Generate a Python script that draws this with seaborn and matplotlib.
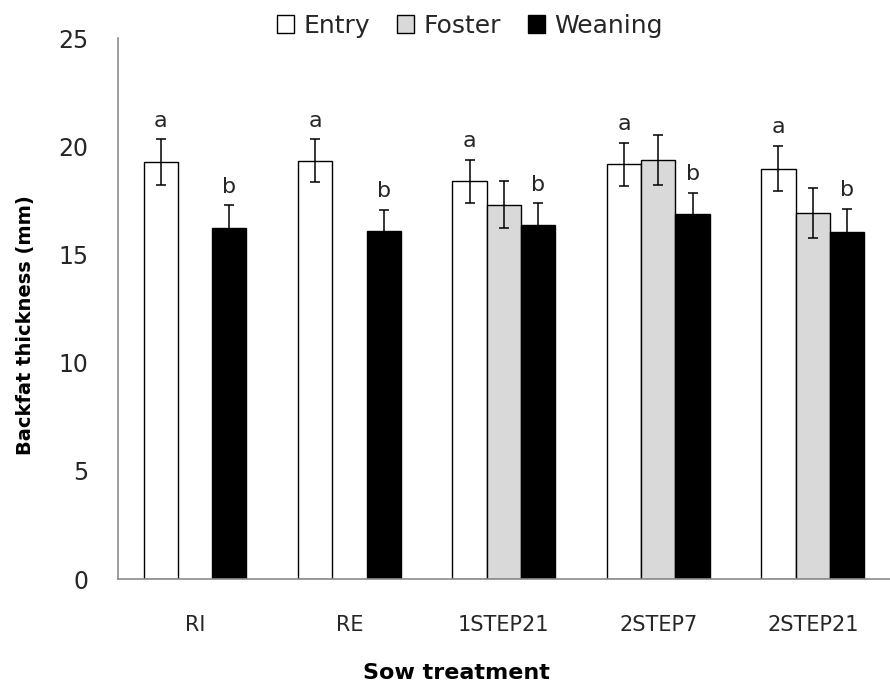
import numpy as np
import pandas as pd
import seaborn as sns
import matplotlib.pyplot as plt
from matplotlib.patches import Patch

treatments = ["RI", "RE", "1STEP21", "2STEP7", "2STEP21"]
stages = ["Entry", "Foster", "Weaning"]

entry = [19.27, 19.34, 18.39, 19.18, 18.98]
entry_err = [1.07, 1.0, 1.0, 1.0, 1.05]
foster = [np.nan, np.nan, 17.31, 19.38, 16.91]
foster_err = [np.nan, np.nan, 1.1, 1.14, 1.15]
weaning = [16.22, 16.08, 16.39, 16.87, 16.06]
weaning_err = [1.05, 1.0, 1.0, 1.0, 1.07]

letters = {"Entry": ["a"] * 5, "Weaning": ["b"] * 5}

colors = {"Entry": "white", "Foster": "#d9d9d9", "Weaning": "black"}

rows = []
for stage, vals, errs in [("Entry", entry, entry_err),
                          ("Foster", foster, foster_err),
                          ("Weaning", weaning, weaning_err)]:
    for t, v, e in zip(treatments, vals, errs):
        if not np.isnan(v):
            rows.append({"treatment": t, "stage": stage, "value": v, "err": e})
df = pd.DataFrame(rows)

sns.set_style("white")
plt.rcParams["font.family"] = ["DejaVu Sans"]
txt = "#262626"

fig, ax = plt.subplots(figsize=(8.9, 6.84), dpi=100)
fig.subplots_adjust(left=0.1324, right=1.0, bottom=0.1535, top=0.944)

sns.barplot(data=df, x="treatment", y="value", hue="stage",
            order=treatments, hue_order=stages, palette=colors,
            edgecolor="black", linewidth=1.0, width=0.666, gap=0,
            errorbar=None, legend=False, ax=ax)

# error bars and letters, placed on the bars seaborn drew
for stage, cont in zip(stages, ax.containers):
    sub = df[df.stage == stage].set_index("treatment").reindex(treatments).dropna()
    for bar, (t, r) in zip(cont.patches, sub.iterrows()):
        xc = bar.get_x() + bar.get_width() / 2
        ax.errorbar(xc, r["value"], yerr=r["err"], fmt="none", ecolor="black",
                    elinewidth=1.1, capsize=3.6, capthick=1.1, zorder=5)
        if stage in letters:
            lab = letters[stage][treatments.index(t)]
            ax.annotate(lab, (xc, r["value"] + r["err"]), xytext=(0, 6),
                        textcoords="offset points", ha="center", va="bottom",
                        fontsize=16, color=txt)

ax.set_ylim(0, 25)
ax.set_yticks(range(0, 26, 5))
ax.set_xlim(-0.5, 4.44)

# category boundaries as tick marks, labels centred
ax.set_xticks(np.arange(-0.5, 5, 1.0))
ax.set_xticklabels([])
ax.set_xticks(range(len(treatments)), minor=True)
ax.set_xticklabels(treatments, minor=True)
ax.tick_params(axis="x", which="major", length=7, width=1, color="#8c8c8c", direction="out")
ax.tick_params(axis="x", which="minor", length=0, pad=26, labelsize=15, labelcolor=txt)
ax.tick_params(axis="y", length=7, width=1, color="#8c8c8c", direction="out",
               labelsize=17, labelcolor=txt, pad=14)
for side in ["top", "right"]:
    ax.spines[side].set_visible(False)
for side in ["left", "bottom"]:
    ax.spines[side].set_color("#8c8c8c")
    ax.spines[side].set_linewidth(1.2)

ax.set_xlabel("Sow treatment", fontsize=16, fontweight="bold", color="black")
ax.xaxis.set_label_coords(0.438, -0.155)
ax.set_ylabel("Backfat thickness (mm)", fontsize=14, fontweight="bold", color="black")
ax.yaxis.set_label_coords(-0.107, 0.469)

handles = [Patch(facecolor=colors[s], edgecolor="black", linewidth=1) for s in stages]
fig.legend(handles, stages, loc="center", bbox_to_anchor=(0.528, 0.962), ncol=3,
           frameon=False, fontsize=18, handlelength=0.68, handleheight=0.7,
           handletextpad=0.35, columnspacing=1.1, labelcolor=txt)

fig.savefig("out.png", dpi=100)
